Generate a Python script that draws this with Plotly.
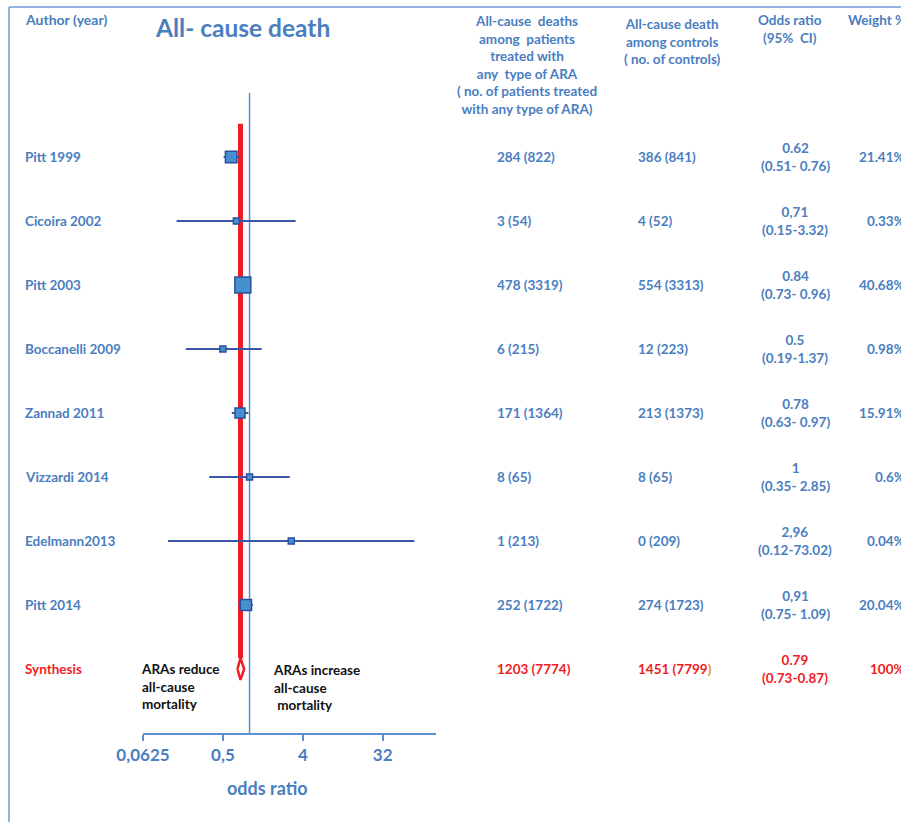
import math
import plotly.graph_objects as go

# ---- data -----------------------------------------------------------------
studies = ["Pitt 1999", "Cicoira 2002", "Pitt 2003", "Boccanelli 2009",
           "Zannad 2011", "Vizzardi 2014", "Edelmann2013", "Pitt 2014"]
treated_deaths = ["284 (822)", "3 (54)", "478 (3319)", "6 (215)",
                  "171 (1364)", "8 (65)", "1 (213)", "252 (1722)"]
control_deaths = ["386 (841)", "4 (52)", "554 (3313)", "12 (223)",
                  "213 (1373)", "8 (65)", "0 (209)", "274 (1723)"]
odds_ratio = [0.62, 0.71, 0.84, 0.5, 0.78, 1.0, 2.96, 0.91]
ci_low = [0.51, 0.15, 0.73, 0.19, 0.63, 0.35, 0.12, 0.75]
ci_high = [0.76, 3.32, 0.96, 1.37, 0.97, 2.85, 73.02, 1.09]
or_text = ["0.62", "0,71", "0.84", "0.5", "0.78", "1", "2,96", "0,91"]
ci_text = ["(0.51- 0.76)", "(0.15-3.32)", "(0.73- 0.96)", "(0.19-1.37)",
           "(0.63- 0.97)", "(0.35- 2.85)", "(0.12-73.02)", "(0.75- 1.09)"]
weights = [21.41, 0.33, 40.68, 0.98, 15.91, 0.6, 0.04, 20.04]
weight_text = ["21.41%", "0.33%", "40.68%", "0.98%", "15.91%", "0.6%", "0.04%", "20.04%"]

pooled_label = "Synthesis"
pooled_treated = "1203 (7774)"
pooled_control = "1451 (7799"
pooled_or = 0.79
pooled_low = 0.73
pooled_high = 0.87
pooled_or_text = "0.79"
pooled_ci_text = "(0.73-0.87)"
pooled_weight_text = "100%"

tick_values = [0.0625, 0.5, 4, 32]
tick_labels = ["0,0625", "0,5", "4", "32"]

# ---- styling --------------------------------------------------------------
W, H = 901, 822
BLUE = "#4a7ebf"
AXIS_BLUE = "#5b8fd3"
RED = "#f01c24"
FONT = "Lato"
FS = 13.5

rows = list(range(len(studies)))
pooled_row = len(studies)


def px_x(p):
    return p / W


def px_y(p):
    return 1 - p / H


fig = go.Figure()

# confidence intervals
ci_x, ci_y = [], []
for i in rows:
    ci_x += [ci_low[i], ci_high[i], None]
    ci_y += [i, i, None]
fig.add_trace(go.Scatter(x=ci_x, y=ci_y, mode="lines",
                         line=dict(color="#3c56a5", width=2),
                         hoverinfo="skip", showlegend=False))

# study squares sized by weight
sizes = [max(6, 2.5 * math.sqrt(w)) for w in weights]
fig.add_trace(go.Scatter(x=odds_ratio, y=rows, mode="markers",
                         marker=dict(symbol="square", size=sizes, color="#4590cf",
                                     opacity=1,
                                     line=dict(color="#2d4e9c", width=1.5)),
                         showlegend=False))

# pooled estimate diamond
dh = 0.17
fig.add_trace(go.Scatter(
    x=[pooled_low, pooled_or, pooled_high, pooled_or, pooled_low],
    y=[pooled_row, pooled_row - dh, pooled_row, pooled_row + dh, pooled_row],
    mode="lines", fill="toself", fillcolor="white",
    line=dict(color=RED, width=2.5), showlegend=False))

shapes = [
    # line of no effect
    dict(type="line", xref="x", yref="y", x0=1, x1=1, y0=-1, y1=9,
         line=dict(color=AXIS_BLUE, width=1.5), layer="below"),
    # pooled estimate line
    dict(type="line", xref="x", yref="y", x0=pooled_or, x1=pooled_or,
         y0=-0.52, y1=pooled_row - dh, line=dict(color=RED, width=5), layer="below"),
    # frame
    dict(type="line", xref="paper", yref="paper", x0=px_x(9), x1=px_x(9),
         y0=0, y1=px_y(7), line=dict(color="#6f9bd8", width=1.5)),
    dict(type="line", xref="paper", yref="paper", x0=px_x(9), x1=1,
         y0=px_y(7), y1=px_y(7), line=dict(color="#6f9bd8", width=1.5)),
]

ann = []


def text(x, y, s, color=BLUE, size=FS, xanchor="left", yref="y", yanchor="middle", align="left"):
    ann.append(dict(x=x, y=y, xref="paper", yref=yref, text=s, showarrow=False,
                    xanchor=xanchor, yanchor=yanchor, align=align,
                    font=dict(family=FONT, size=size, color=color, weight="bold")))


# headers
text(px_x(23), px_y(20), "Author (year)", size=14, yref="paper")
text(px_x(153), px_y(27), "All- cause death", size=24.5, yref="paper")
text(px_x(527), px_y(65.5),
     "All-cause  deaths<br>among  patients<br>treated with<br>any  type of ARA"
     "<br>( no. of patients treated<br>with any type of ARA)",
     yref="paper", xanchor="center", align="center")
text(px_x(672), px_y(41.5), "All-cause death<br>among controls<br>( no. of controls)",
     yref="paper", xanchor="center", align="center")
text(px_x(790), px_y(29), "Odds ratio<br>(95%  CI)", yref="paper",
     xanchor="center", align="center")
text(px_x(846), px_y(20), "Weight %", yref="paper")

# study rows
for i in rows:
    text(px_x(23), i, studies[i])
    text(px_x(495), i, treated_deaths[i])
    text(px_x(636), i, control_deaths[i])
    text(px_x(795), i, or_text[i] + "<br>" + ci_text[i], xanchor="center", align="center")
    text(px_x(907), i, weight_text[i], xanchor="right", align="right")

# pooled row
text(px_x(23), pooled_row, pooled_label, color=RED)
text(px_x(495), pooled_row, pooled_treated, color=RED)
text(px_x(636), pooled_row, pooled_control + '<span style="color:#f28c28">)</span>', color=RED)
text(px_x(795), pooled_row, pooled_or_text + "<br>" + pooled_ci_text, color=RED,
     xanchor="center", align="center")
text(px_x(907), pooled_row, pooled_weight_text, color=RED, xanchor="right", align="right")

# interpretation notes
text(px_x(139), px_y(659), "ARAs reduce<br>all-cause<br>mortality", color="#111111",
     yref="paper", yanchor="top")
text(px_x(271), px_y(660), "ARAs increase<br>all-cause<br> mortality", color="#111111",
     yref="paper", yanchor="top")

# axis title
text(px_x(267), px_y(788), "odds ratio", size=18, yref="paper", xanchor="center")

# row i sits at pixel 157 + 64*i; axis line at pixel 733
y_top = -157 / 64
y_bottom = (733 - 157) / 64

fig.update_layout(
    width=W, height=H, margin=dict(l=0, r=0, t=0, b=0, autoexpand=False),
    paper_bgcolor="white", plot_bgcolor="white",
    shapes=shapes, annotations=ann, showlegend=False,
    xaxis=dict(type="log", domain=[px_x(143), px_x(436)],
               range=[math.log10(0.0625), math.log10(128)],
               tickvals=tick_values, ticktext=tick_labels,
               showgrid=False, zeroline=False, showline=True,
               linecolor=AXIS_BLUE, linewidth=2,
               ticks="outside", ticklen=6, tickwidth=2, tickcolor=AXIS_BLUE,
               tickfont=dict(family=FONT, size=17, color=BLUE, weight="bold")),
    yaxis=dict(domain=[(H - 733) / H, 1], range=[y_bottom, y_top],
               visible=False, showgrid=False, zeroline=False),
)

fig.write_html("out.html")
